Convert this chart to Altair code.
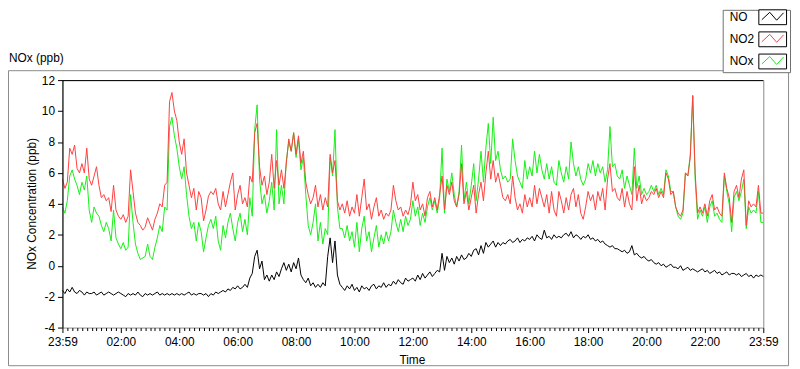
import altair as alt
import pandas as pd

# ---------------- data (5-minute steps) ----------------
minutes = list(range(0, 1441, 5))

no = [
    -1.6, -1.8, -1.5, -1.7, -1.4, -1.7, -1.8, -1.6, -1.7, -1.9, -1.7, -1.8,
    -1.8, -1.7, -1.9, -1.8, -1.7, -1.9, -1.8, -1.7, -1.8, -1.9, -1.8, -1.7,
    -1.8, -1.9, -2.0, -1.8, -1.9, -1.8, -1.9, -1.7, -1.9, -2.0, -1.8, -1.9,
    -1.8, -1.9, -1.8, -1.7, -1.9, -1.8, -1.9, -1.8, -1.9, -1.8, -1.9, -1.8,
    -1.9, -1.8, -1.9, -1.8, -1.7, -1.9, -1.8, -1.9, -1.8, -1.8, -1.9, -1.8,
    -2.0, -1.8, -1.9, -1.7, -1.8, -1.7, -1.6, -1.7, -1.5, -1.6, -1.4, -1.5,
    -1.3, -1.5, -1.4, -1.2, -1.4, -0.8, -0.5, 0.6, 1.0, -0.2, 0.3, -0.9,
    -0.6, -1.0, -0.6, -0.9, -0.4, -0.7, -0.2, 0.2, -0.3, 0.1, -0.4, 0.2,
    -0.2, 0.5, -0.6, -0.9, -1.1, -0.8, -1.3, -1.1, -1.4, -1.2, -1.4, -1.1,
    -1.3, 0.6, 1.8, 0.2, 1.6, -0.6, -1.2, -1.4, -1.6, -1.3, -1.5, -1.2,
    -1.6, -1.4, -1.7, -1.3, -1.5, -1.4, -1.6, -1.3, -1.2, -1.5, -1.3, -1.4,
    -1.1, -1.4, -1.2, -1.3, -1.0, -1.2, -0.9, -1.1, -1.2, -0.8, -1.0, -0.9,
    -0.8, -1.0, -0.6, -0.9, -0.5, -0.8, -0.6, -0.4, -0.7, -0.5, -0.3, -0.4,
    0.8, -0.3, 0.6, 0.2, 0.5, 0.1, 0.6, 0.3, 0.7, 0.4, 0.5, 0.8,
    0.6, 1.0, 1.1, 0.7, 1.3, 0.8, 1.5, 1.2, 1.4, 1.6, 1.2, 1.5,
    1.3, 1.5, 1.4, 1.6, 1.7, 1.5, 1.6, 1.8, 1.5, 1.7, 1.6, 1.8,
    1.7, 1.9, 1.6, 2.0, 1.8, 1.7, 2.3, 1.8, 1.9, 1.7, 2.0, 1.8,
    1.9, 1.8, 2.0, 2.1, 1.9, 2.2, 1.8, 2.0, 1.9, 1.7, 1.9, 1.8,
    2.0, 1.7, 1.8, 1.6, 1.7, 1.5, 1.6, 1.4, 1.3, 1.2, 1.3, 1.1,
    1.1, 1.0, 0.9, 1.0, 0.8, 0.9, 1.3, 0.7, 0.8, 0.6, 0.5, 0.6,
    0.4, 0.3, 0.4, 0.2, 0.1, 0.2, 0.0, 0.1, -0.1, 0.0, 0.1, -0.1,
    -0.1, -0.2, 0.0, -0.3, -0.2, -0.1, -0.3, -0.2, -0.3, -0.4, -0.3, -0.2,
    -0.4, -0.3, -0.5, -0.4, -0.3, -0.5, -0.4, -0.6, -0.5, -0.4, -0.6, -0.5,
    -0.5, -0.6, -0.5, -0.7, -0.6, -0.5, -0.7, -0.6, -0.8, -0.6, -0.7, -0.6,
    -0.7,
]

no2 = [
    5.6, 5.0, 5.4, 7.6, 7.2, 7.8, 6.3, 6.0, 6.6, 6.0, 7.6, 5.6,
    5.2, 5.8, 6.4, 5.2, 4.4, 4.6, 4.2, 4.4, 3.5, 5.2, 3.6, 3.2,
    3.0, 3.3, 2.8, 3.2, 6.2, 4.8, 3.4, 2.8, 2.6, 2.3, 2.5, 3.1,
    2.7, 2.3, 3.0, 3.4, 4.0, 3.8, 5.2, 5.4, 10.6, 11.2, 10.0, 9.4,
    8.0, 7.2, 8.2, 6.0, 5.2, 4.4, 5.0, 3.6, 4.8, 4.4, 2.9, 3.6,
    4.5, 4.8, 4.6, 5.0, 4.0, 3.6, 4.8, 3.8, 4.6, 5.4, 6.0, 3.6,
    4.6, 5.2, 4.0, 4.4, 3.8, 5.8, 5.4, 8.6, 9.2, 6.4, 5.2, 5.8,
    4.6, 5.4, 7.2, 5.0, 6.8, 5.2, 6.2, 5.0, 6.6, 8.2, 7.4, 8.6,
    7.2, 8.4, 6.6, 7.4, 5.4, 4.6, 4.0, 4.4, 5.2, 3.8, 4.6, 3.6,
    4.4, 3.8, 7.2, 6.0, 6.8, 4.2, 3.6, 4.0, 3.4, 4.2, 3.2, 3.8,
    3.4, 4.6, 3.2, 4.4, 5.6, 3.6, 4.0, 3.0, 3.8, 4.4, 3.2, 3.6,
    3.0, 3.4, 3.2, 3.6, 5.2, 4.2, 3.6, 3.8, 3.2, 3.6, 3.3, 3.9,
    5.4, 4.2, 4.6, 3.6, 4.0, 3.2, 4.4, 4.8, 3.8, 4.4, 3.6, 4.6,
    5.8, 3.6, 5.2, 4.6, 5.4, 4.2, 3.8, 4.6, 6.6, 4.0, 4.8, 3.6,
    4.4, 5.2, 3.4, 4.6, 5.4, 4.2, 6.0, 7.4, 5.6, 6.8, 5.4, 6.0,
    5.2, 4.4, 4.2, 4.6, 4.0, 5.8, 4.4, 3.6, 4.0, 3.4, 4.6, 3.8,
    4.4, 3.8, 5.2, 4.0, 5.0, 4.4, 3.8, 4.6, 3.4, 4.8, 3.6, 3.2,
    4.8, 4.2, 3.4, 4.4, 3.6, 4.6, 5.0, 3.8, 4.6, 3.4, 3.0, 3.8,
    4.8, 4.2, 4.6, 3.6, 4.8, 4.2, 5.0, 3.6, 5.6, 6.6, 4.8, 5.0,
    4.4, 4.2, 5.0, 3.8, 4.8, 4.0, 3.6, 6.4, 4.2, 5.2, 4.0, 4.6,
    4.2, 4.4, 4.8, 4.6, 5.0, 4.4, 4.8, 4.4, 6.0, 5.6, 4.6, 4.8,
    3.8, 3.4, 3.2, 3.6, 6.0, 5.8, 7.0, 11.0, 6.0, 3.4, 3.8, 3.4,
    4.0, 3.2, 4.2, 4.6, 3.6, 3.8, 3.4, 3.2, 6.0, 5.0, 4.4, 2.8,
    4.8, 5.2, 4.4, 5.6, 6.2, 2.6, 4.2, 3.8, 4.0, 3.8, 5.2, 3.4,
    3.4,
]

nox = [
    3.8, 3.4, 4.2, 5.8, 6.2, 5.6, 5.2, 4.6, 5.4, 4.9, 5.8, 3.6,
    2.8, 3.8, 3.4, 3.2, 2.6, 2.2, 2.8, 2.4, 1.6, 3.6, 1.8, 1.4,
    1.1, 1.5, 1.0, 1.2, 4.6, 2.8, 1.4, 0.8, 0.4, 0.5, 0.6, 1.4,
    0.6, 0.4, 1.2, 1.8, 2.6, 2.2, 3.8, 3.6, 9.0, 9.6, 8.4, 7.6,
    6.4, 5.6, 6.4, 4.6, 3.2, 2.4, 2.8, 1.6, 2.8, 2.2, 0.9, 1.8,
    2.6, 3.0, 2.4, 3.2, 1.6, 1.0, 2.6, 1.8, 2.8, 3.4, 2.4, 1.6,
    2.8, 3.4, 2.2, 3.0, 2.0, 4.4, 3.2, 8.8, 10.4, 5.6, 4.0, 4.6,
    3.4, 4.2, 5.4, 3.6, 8.8, 4.0, 5.2, 4.0, 6.8, 8.0, 7.4, 8.6,
    7.0, 8.2, 6.2, 7.0, 4.6, 2.6, 2.0, 2.8, 4.0, 1.6, 2.8, 1.4,
    2.4, 2.0, 7.0, 5.8, 8.8, 3.8, 2.4, 2.4, 1.8, 2.6, 1.6, 2.2,
    1.2, 2.8, 0.9, 2.4, 3.2, 1.6, 2.2, 0.9, 1.8, 2.6, 1.2, 2.0,
    1.4, 2.2, 1.6, 2.2, 3.6, 2.8, 2.2, 3.0, 2.2, 3.2, 2.6, 3.0,
    4.2, 3.2, 3.8, 2.6, 3.4, 2.8, 3.8, 4.4, 3.6, 4.2, 3.4, 4.4,
    7.6, 3.4, 5.6, 4.8, 6.0, 4.6, 3.8, 4.8, 7.8, 4.2, 5.4, 4.0,
    5.2, 6.6, 4.2, 5.6, 7.4, 5.4, 7.6, 9.2, 6.6, 9.6, 6.8, 7.4,
    6.2, 5.6, 5.8, 5.4, 5.6, 8.2, 6.8, 5.8, 5.4, 5.0, 6.8, 5.6,
    6.4, 5.8, 7.4, 6.0, 7.2, 6.2, 5.6, 6.6, 5.6, 6.4, 5.4, 5.2,
    6.8, 6.0, 5.4, 6.4, 5.6, 8.0, 6.6, 5.8, 6.4, 5.6, 5.2, 5.6,
    6.6, 6.0, 6.8, 5.8, 6.6, 6.0, 6.4, 5.4, 6.2, 9.0, 6.4, 6.6,
    5.8, 5.6, 6.2, 5.0, 5.8, 5.2, 4.6, 7.6, 5.0, 5.8, 4.6, 5.0,
    4.6, 4.8, 5.2, 4.8, 5.2, 4.6, 5.0, 4.6, 6.2, 5.8, 4.8, 4.8,
    3.8, 3.2, 3.0, 3.4, 6.0, 5.8, 7.2, 11.0, 5.6, 3.0, 3.6, 3.2,
    3.8, 2.8, 3.8, 4.2, 3.2, 3.4, 3.0, 2.8, 5.8, 4.8, 4.0, 2.2,
    4.4, 4.8, 4.2, 4.8, 5.6, 2.4, 3.8, 3.4, 3.6, 3.4, 4.8, 2.8,
    2.8,
]

series_names = ["NO", "NO2", "NOx"]
series_colors = ["#000000", "#ff4040", "#14f014"]

y_ticks = [-4, -2, 0, 2, 4, 6, 8, 10, 12]
x_label_values = [0, 120, 240, 360, 480, 600, 720, 840, 960, 1080, 1200, 1320, 1440]
x_labels = ["23:59", "02:00", "04:00", "06:00", "08:00", "10:00", "12:00",
            "14:00", "16:00", "18:00", "20:00", "22:00", "23:59"]
x_minor_values = list(range(0, 1441, 10))

# ---------------- styling ----------------
FONT = "Liberation Sans"
TICKFONT = "Liberation Sans Narrow, Liberation Sans"
FRAME = "#8a8a8a"
W, H = 708, 250

label_expr = "''"
for v, lab in reversed(list(zip(x_label_values, x_labels))):
    label_expr = f"datum.value === {v} ? '{lab}' : ({label_expr})"

x_enc = alt.X(
    "t:Q",
    scale=alt.Scale(domain=[0, 1440], nice=False, zero=False),
    axis=alt.Axis(
        values=x_minor_values,
        labelExpr=label_expr,
        tickSize={"condition": {"test": "datum.value % 120 === 0", "value": 5}, "value": 3},
        tickColor="black",
        domain=False,
        grid=False,
        labelFont=TICKFONT,
        labelFontSize=12,
        labelColor="black",
        labelPadding=4,
        labelFlush=False,
        labelOverlap=False,
        labelBound=False,
        title=None,
    ),
)
y_enc = alt.Y(
    "v:Q",
    scale=alt.Scale(domain=[-4, 12], nice=False, zero=False),
    axis=alt.Axis(
        values=y_ticks,
        labelExpr="'' + datum.value",
        tickSize=5,
        tickColor="black",
        domainColor="black",
        grid=False,
        labelFont=TICKFONT,
        labelFontSize=12,
        labelColor="black",
        labelPadding=3,
        title=None,
        zindex=1,
    ),
)

frames = {"NO": no, "NO2": no2, "NOx": nox}
one = pd.DataFrame({"a": [0]})

layers = []
# draw order: NOx, NO2, NO
for name in ["NOx", "NO2", "NO"]:
    col = series_colors[series_names.index(name)]
    df = pd.DataFrame({"t": minutes, "v": frames[name]})
    layers.append(
        alt.Chart(df).mark_line(color=col, strokeWidth=1).encode(x=x_enc, y=y_enc)
    )


def rule(x1, x2, y1, y2, color, width=1):
    return alt.Chart(one).mark_rule(color=color, strokeWidth=width).encode(
        x=alt.value(x1), x2=alt.value(x2), y=alt.value(y1), y2=alt.value(y2)
    )


def text(s, x, y, align="left", angle=0, size=12):
    return alt.Chart(one).mark_text(
        text=s, font=FONT, fontSize=size, color="black", align=align,
        baseline="middle", angle=angle,
    ).encode(x=alt.value(x), y=alt.value(y))


# plot frame top edge (black)
layers.append(rule(0, W, 0.5, 0.5, "black"))

# outer panel frame (gray)
layers.append(rule(-54.5, 667.5, -9.5, -9.5, FRAME))
layers.append(rule(733.5, 733.5, -9.5, 288.5, FRAME))
layers.append(rule(-54.5, 733.5, 288.5, 288.5, FRAME))
layers.append(rule(-54.5, -54.5, -9.5, 288.5, FRAME))

# titles
layers.append(text("NOx (ppb)", -54, -22))
layers.append(text("NOx Concentration (ppb)", -31, 125, align="center", angle=270))
layers.append(text("Time", 353.5, 283, align="center"))

# legend
layers.append(
    alt.Chart(one).mark_rect(fill="white", stroke="#707070", strokeWidth=1).encode(
        x=alt.value(667.5), x2=alt.value(735.5), y=alt.value(-70.5), y2=alt.value(-7.5)
    )
)
legend_cy = [-63.5, -41.2, -18.8]
for name, col, cy in zip(series_names, series_colors, legend_cy):
    layers.append(text(name, 674, cy))
    bx0, by0 = 703.5, cy - 7.5
    layers.append(
        alt.Chart(one).mark_rect(fill="white", stroke="black", strokeWidth=1).encode(
            x=alt.value(bx0), x2=alt.value(bx0 + 28), y=alt.value(by0), y2=alt.value(by0 + 15)
        )
    )
    pts = [(3, 10), (11, 2.5), (18, 10.5), (25, 3)]
    for (ax, ay), (cx, cyy) in zip(pts[:-1], pts[1:]):
        layers.append(rule(bx0 + ax, bx0 + cx, by0 + ay, by0 + cyy, col))

chart = (
    alt.layer(*layers)
    .properties(
        width=W,
        height=H,
        autosize=alt.AutoSizeParams(type="none"),
        padding={"left": 55, "top": 71, "right": 29, "bottom": 40},
        background="white",
    )
    .configure_view(stroke=FRAME, strokeWidth=1)
)

chart.save("out.html", embed_options={"renderer": "svg", "actions": False})
